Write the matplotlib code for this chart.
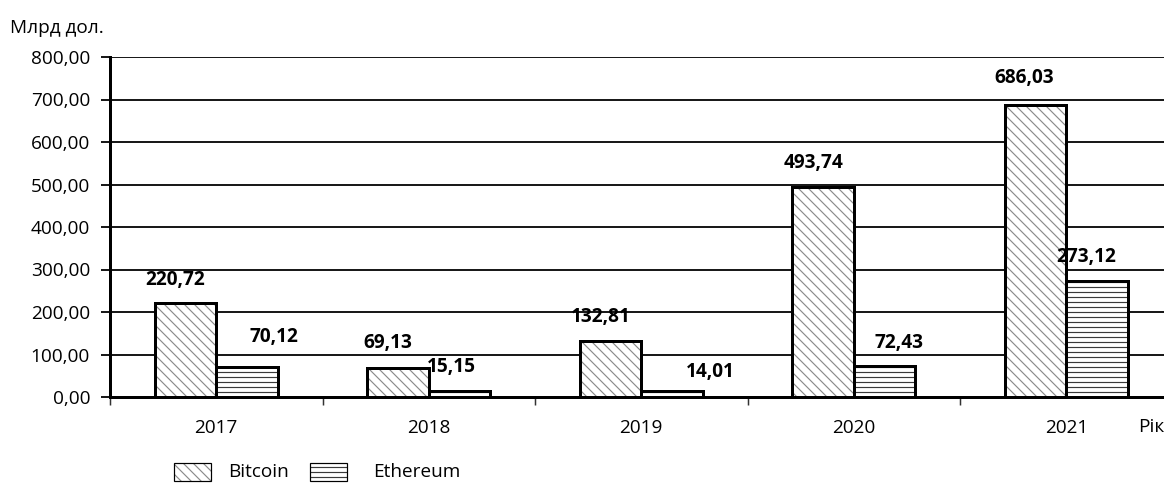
import matplotlib.pyplot as plt
from matplotlib.patches import Rectangle
import numpy as np

years = ['2017', '2018', '2019', '2020', '2021']
bitcoin = [220.72, 69.13, 132.81, 493.74, 686.03]
ethereum = [70.12, 15.15, 14.01, 72.43, 273.12]
y_ticks = [0, 100, 200, 300, 400, 500, 600, 700, 800]

# label offsets in pixels (x shift from bar centre, height above bar top)
btc_off = [(-10, 23), (-10, 25), (-10, 24), (-10, 24), (-11, 27)]
eth_off = [(27, 30), (-8, 24), (38, 19), (15, 23), (-11, 24)]

DPI = 120
W, H = 1164, 484
px = 72.0 / DPI  # points per pixel

plt.rcParams['font.family'] = ['Open Sans', 'DejaVu Sans']
plt.rcParams['hatch.linewidth'] = 0.7

fig = plt.figure(figsize=(W / DPI, H / DPI), dpi=DPI)
ax = fig.add_axes([110 / W, 87 / H, 1062.5 / W, 340 / H])

x = np.arange(len(years))
bw = 0.289
fs = 19 * px
btc_hatch = '\\' * 4
eth_hatch = '----'

# hatched fills
ax.bar(x - bw / 2, bitcoin, bw, color='white', edgecolor='#8a8a8a', hatch=btc_hatch, linewidth=0, zorder=3)
ax.bar(x + bw / 2, ethereum, bw, color='white', edgecolor='#3a3a3a', hatch=eth_hatch, linewidth=0, zorder=3)
# thick outlines
ax.bar(x - bw / 2, bitcoin, bw, fill=False, edgecolor='black', linewidth=3 * px, zorder=4)
ax.bar(x + bw / 2, ethereum, bw, fill=False, edgecolor='black', linewidth=3 * px, zorder=4)

def fmt(v):
    return ('%.2f' % v).replace('.', ',')

for i in range(len(years)):
    ax.annotate(fmt(bitcoin[i]), (x[i] - bw / 2, bitcoin[i]), xytext=btc_off[i],
                textcoords='offset pixels', ha='center', va='center',
                fontsize=fs, fontweight='bold', zorder=5)
    ax.annotate(fmt(ethereum[i]), (x[i] + bw / 2, ethereum[i]), xytext=eth_off[i],
                textcoords='offset pixels', ha='center', va='center',
                fontsize=fs, fontweight='bold', zorder=5)

ax.set_xlim(-0.5, len(years) - 0.5)
ax.set_ylim(0, 800)
ax.set_yticks(y_ticks)
ax.set_yticklabels([fmt(v) for v in y_ticks], fontsize=fs)
ax.yaxis.grid(True, color='#1a1a1a', linewidth=2 * px, zorder=1)
ax.set_axisbelow(True)

ax.set_xticks(x)
ax.set_xticklabels(years, fontsize=fs)
ax.set_xticks(np.arange(len(years) + 1) - 0.5, minor=True)
ax.tick_params(axis='x', which='major', length=0, pad=22 * px)
ax.tick_params(axis='x', which='minor', length=8 * px, width=1.5 * px, color='#333333')
ax.tick_params(axis='y', length=9 * px, width=2 * px, pad=11 * px, color='#1a1a1a')

for s in ['top', 'right']:
    ax.spines[s].set_visible(False)
ax.spines['left'].set_linewidth(3 * px)
ax.spines['bottom'].set_linewidth(3 * px)
ax.spines['left'].set_bounds(0, 800)

fig.text(10 / W, 1 - 28 / H, 'Млрд дол.', fontsize=fs, va='center', ha='left')
fig.text(1138 / W, 1 - 427 / H, 'Рік', fontsize=fs, va='center', ha='left')

# legend
fig.add_artist(Rectangle((174 / W, 1 - 481 / H), 37 / W, 18 / H, transform=fig.transFigure,
                         facecolor='white', edgecolor='#8a8a8a', hatch=btc_hatch, linewidth=0))
fig.add_artist(Rectangle((174 / W, 1 - 481 / H), 37 / W, 18 / H, transform=fig.transFigure,
                         fill=False, edgecolor='black', linewidth=1.2 * px))
fig.add_artist(Rectangle((310 / W, 1 - 481 / H), 37 / W, 18 / H, transform=fig.transFigure,
                         facecolor='white', edgecolor='#3a3a3a', hatch=eth_hatch, linewidth=0))
fig.add_artist(Rectangle((310 / W, 1 - 481 / H), 37 / W, 18 / H, transform=fig.transFigure,
                         fill=False, edgecolor='black', linewidth=1.2 * px))
fig.text(228 / W, 1 - 472 / H, 'Bitcoin', fontsize=fs, va='center', ha='left')
fig.text(373 / W, 1 - 472 / H, 'Ethereum', fontsize=fs, va='center', ha='left')

plt.savefig('out.png', dpi=DPI)
